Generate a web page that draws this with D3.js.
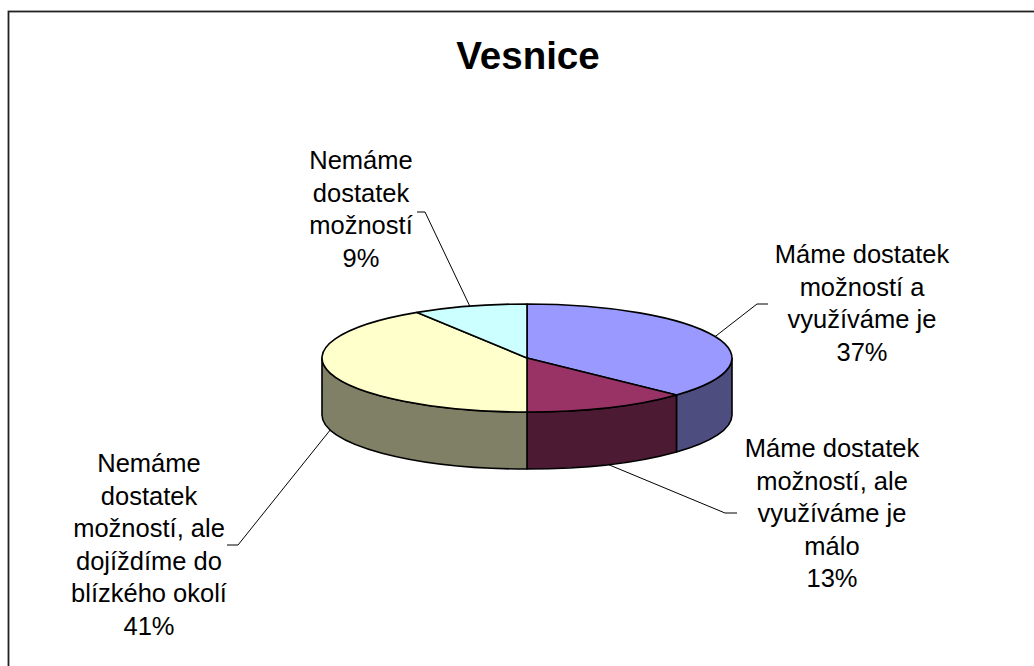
<!DOCTYPE html>
<html>
<head>
<meta charset="utf-8">
<script src="https://cdn.jsdelivr.net/npm/d3@7"></script>
<style>
  body { margin: 0; background: #fff; }
  svg { display: block; font-family: Arial, "Liberation Sans", sans-serif; }
</style>
</head>
<body>
<div id="chart"></div>
<script>
// data
const categories = [
  "Máme dostatek možností a využíváme je",
  "Máme dostatek možností, ale využíváme je málo",
  "Nemáme dostatek možností, ale dojíždíme do blízkého okolí",
  "Nemáme dostatek možností"
];
const values = [37, 13, 41, 9];
const labelLines = [
  ["Máme dostatek", "možností a", "využíváme je", "37%"],
  ["Máme dostatek", "možností, ale", "využíváme je", "málo", "13%"],
  ["Nemáme", "dostatek", "možností, ale", "dojíždíme do", "blízkého okolí", "41%"],
  ["Nemáme", "dostatek", "možností", "9%"]
];
const topColors = ["#9999ff", "#993366", "#ffffcc", "#ccffff"];
const sideColors = ["#4d4d80", "#4d1a33", "#808066", "#668080"];

// label layout: text centre, first baseline, elbow and end of leader
const labelLayout = [
  { x: 862, y: 263, elbow: [757, 304], end: [768, 304] },
  { x: 832, y: 457, elbow: [725, 513], end: [737, 513] },
  { x: 149, y: 472, elbow: [238, 545], end: [227, 545] },
  { x: 361, y: 169, elbow: [425, 212], end: [417, 212] }
];

const width = 1034, height = 666;
const cx = 527, cy = 358, rx = 205, ry = 54, depth = 57;
const lineGap = 32.6;

const svg = d3.select("#chart").append("svg")
  .attr("width", width)
  .attr("height", height);

// chart frame (right and bottom edges fall outside the picture)
svg.append("rect")
  .attr("x", 8.5).attr("y", 11.5)
  .attr("width", 1040).attr("height", 700)
  .attr("fill", "#fff")
  .attr("stroke", "#222")
  .attr("stroke-width", 1.8);

svg.append("text")
  .attr("x", 528).attr("y", 69)
  .attr("text-anchor", "middle")
  .attr("font-size", 38.5)
  .attr("font-weight", "bold")
  .text("Vesnice");

const pie = d3.pie().sort(null).value(d => d)(values);

const pt = (a, dy = 0) => [cx + rx * Math.sin(a), cy - ry * Math.cos(a) + dy];

function topPath(a0, a1) {
  const p0 = pt(a0), p1 = pt(a1);
  const large = (a1 - a0) > Math.PI ? 1 : 0;
  return `M${cx},${cy}L${p0}A${rx},${ry} 0 ${large} 1 ${p1}Z`;
}

function sidePath(a0, a1) {
  const p0 = pt(a0), p1 = pt(a1), q1 = pt(a1, depth), q0 = pt(a0, depth);
  return `M${p0}A${rx},${ry} 0 0 1 ${p1}L${q1}A${rx},${ry} 0 0 0 ${q0}Z`;
}

const g = svg.append("g");

// side walls (only the front half is seen)
pie.forEach((d, i) => {
  const a0 = Math.max(d.startAngle, Math.PI / 2);
  const a1 = Math.min(d.endAngle, Math.PI * 1.5);
  if (a1 <= a0) return;
  g.append("path")
    .attr("d", sidePath(a0, a1))
    .attr("fill", sideColors[i])
    .attr("stroke", "#000")
    .attr("stroke-width", 1.6)
    .attr("stroke-linejoin", "round");
});

// top faces
pie.forEach((d, i) => {
  g.append("path")
    .attr("d", topPath(d.startAngle, d.endAngle))
    .attr("fill", topColors[i])
    .attr("stroke", "#000")
    .attr("stroke-width", 1.6)
    .attr("stroke-linejoin", "round");
});

// leader lines and labels
pie.forEach((d, i) => {
  const mid = (d.startAngle + d.endAngle) / 2;
  const front = Math.cos(mid) < 0;
  const start = pt(mid, front ? depth : 0);
  const L = labelLayout[i];
  svg.append("path")
    .attr("d", d3.line()([start, L.elbow, L.end]))
    .attr("fill", "none")
    .attr("stroke", "#000")
    .attr("stroke-width", 1);

  const t = svg.append("text")
    .attr("text-anchor", "middle")
    .attr("font-size", 25.5)
    .attr("fill", "#000");
  labelLines[i].forEach((line, k) => {
    t.append("tspan")
      .attr("x", L.x)
      .attr("y", L.y + k * lineGap)
      .text(line);
  });
});
</script>
</body>
</html>
